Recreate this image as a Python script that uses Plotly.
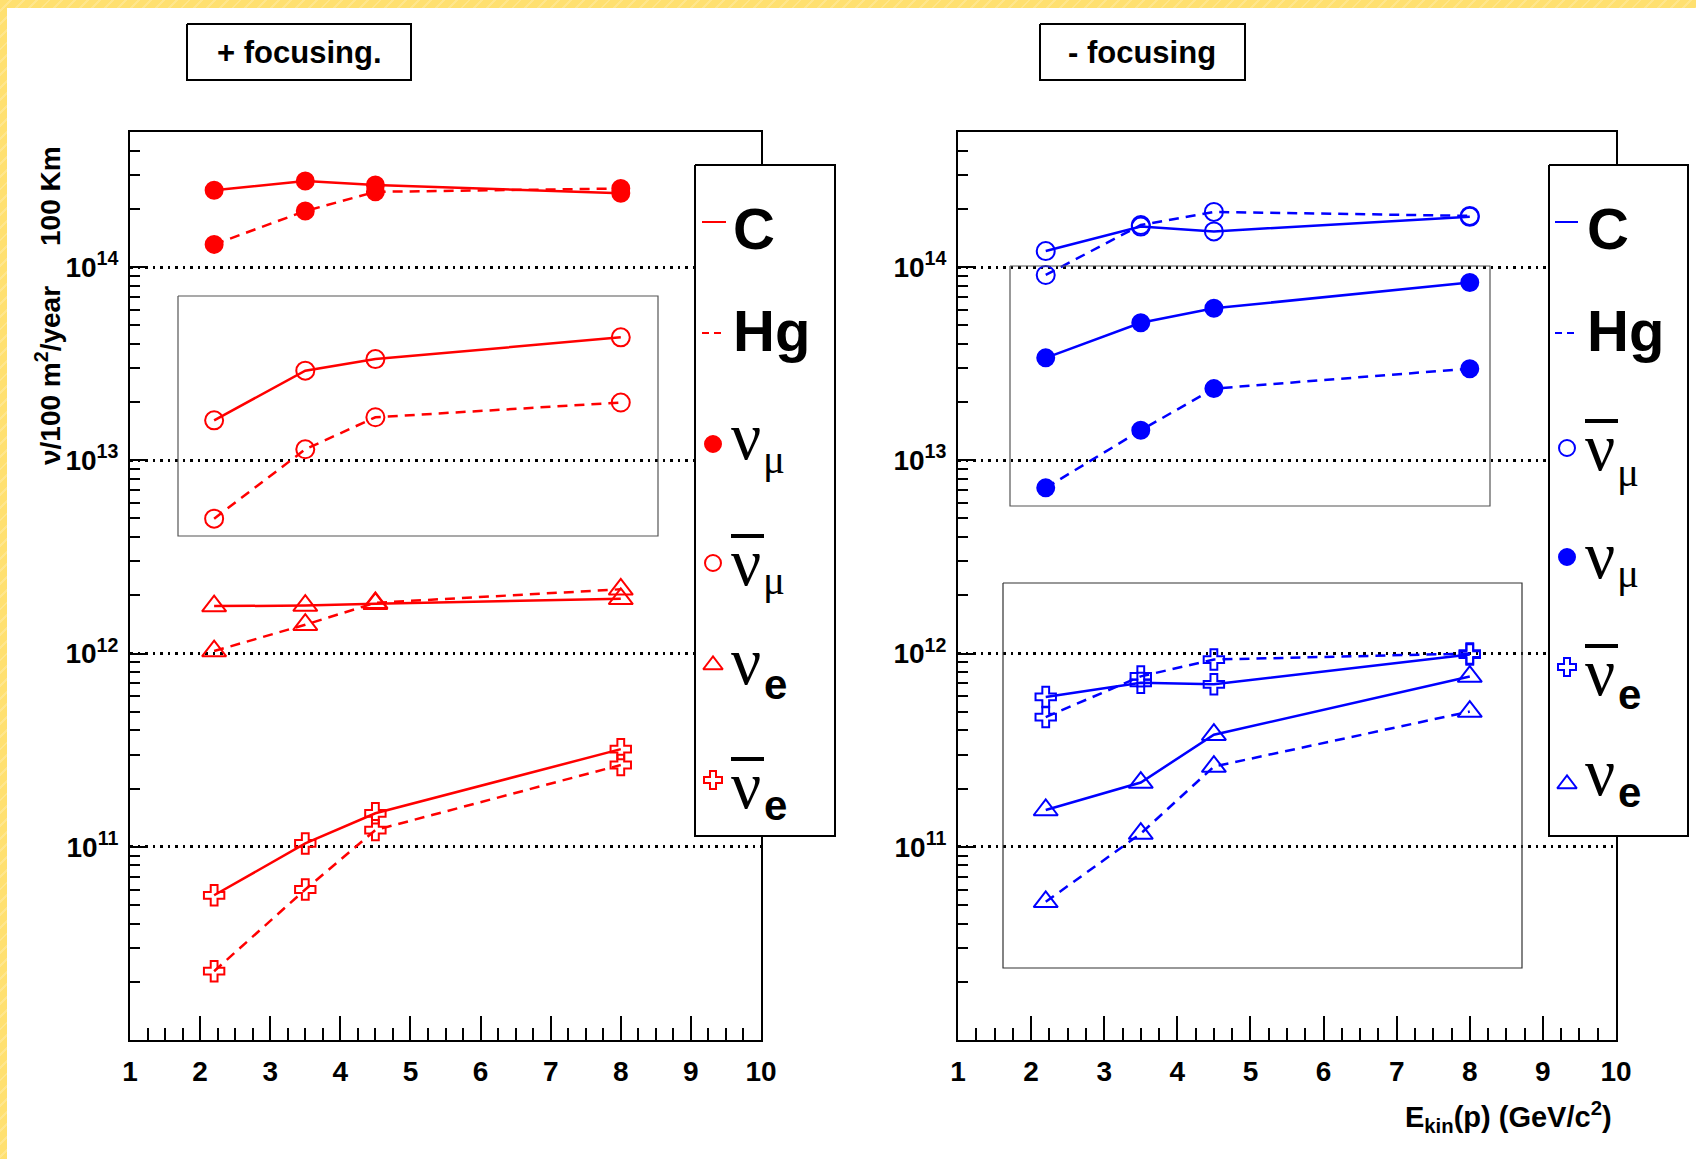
import math
import plotly.graph_objects as go

W, H = 1696, 1159          # browser window
OX, OY = 7, 8              # page offset of the figure (yellow border area)
Wf, Hf = W - OX + 24, H - OY + 24    # figure size (slightly oversized, clipped by the window)

# ---------------- data ----------------
E_kin = [2.2, 3.5, 4.5, 8.0]

# "+ focusing." panel (red)
pos_numu_C = [2.50e14, 2.79e14, 2.66e14, 2.41e14]
pos_numu_Hg = [1.31e14, 1.95e14, 2.45e14, 2.55e14]
pos_anumu_C = [1.61e13, 2.91e13, 3.34e13, 4.33e13]
pos_anumu_Hg = [4.99e12, 1.14e13, 1.67e13, 1.99e13]
pos_nue_C = [1.76e12, 1.77e12, 1.81e12, 1.92e12]
pos_nue_Hg = [1.03e12, 1.41e12, 1.83e12, 2.15e12]
pos_anue_C = [5.61e10, 1.04e11, 1.49e11, 3.20e11]
pos_anue_Hg = [2.27e10, 6.01e10, 1.22e11, 2.65e11]

# "- focusing" panel (blue)
neg_anumu_C = [1.21e14, 1.62e14, 1.53e14, 1.82e14]
neg_anumu_Hg = [9.10e13, 1.65e14, 1.93e14, 1.84e14]
neg_numu_C = [3.39e13, 5.15e13, 6.12e13, 8.32e13]
neg_numu_Hg = [7.20e12, 1.43e13, 2.35e13, 2.98e13]
neg_anue_C = [5.96e11, 7.05e11, 6.93e11, 9.88e11]
neg_anue_Hg = [4.69e11, 7.62e11, 9.31e11, 1.00e12]
neg_nue_C = [1.55e11, 2.15e11, 3.80e11, 7.60e11]
neg_nue_Hg = [5.19e10, 1.17e11, 2.60e11, 5.01e11]

y_major = [1e11, 1e12, 1e13, 1e14]
y_major_text = ["10<sup>11</sup>", "10<sup>12</sup>", "10<sup>13</sup>", "10<sup>14</sup>"]
x_tick_vals = list(range(1, 11))

# ---------------- styles ----------------
RED = "#FF0000"
BLUE = "#0000FF"
SANS = "Liberation Sans, Arial, sans-serif"
SERIF = "Liberation Serif, Times New Roman, serif"
DASH = "10px,7px"

SYM = {
    "filled": dict(symbol="circle", size=17),
    "open": dict(symbol="circle-open", size=18),
    "tri": dict(symbol="triangle-up-open", size=21),
    "cross": dict(symbol="cross-open", size=17),
}


def px_x(p):
    return (p - OX) / Wf


def px_y(p):
    return 1 - (p - OY) / Hf


fig = go.Figure()


def data_trace(y, color, kind, dashed, xa, ya):
    m = dict(SYM[kind])
    m["color"] = color
    m["line"] = dict(color=color, width=2)
    fig.add_trace(go.Scatter(
        x=E_kin, y=y, mode="lines+markers", xaxis=xa, yaxis=ya,
        line=dict(color=color, width=2.5, dash=DASH if dashed else "solid"),
        marker=m, showlegend=False, hoverinfo="skip"))


left = [
    (pos_numu_C, "filled", False), (pos_numu_Hg, "filled", True),
    (pos_anumu_C, "open", False), (pos_anumu_Hg, "open", True),
    (pos_nue_C, "tri", False), (pos_nue_Hg, "tri", True),
    (pos_anue_C, "cross", False), (pos_anue_Hg, "cross", True),
]
right = [
    (neg_anumu_C, "open", False), (neg_anumu_Hg, "open", True),
    (neg_numu_C, "filled", False), (neg_numu_Hg, "filled", True),
    (neg_anue_C, "cross", False), (neg_anue_Hg, "cross", True),
    (neg_nue_C, "tri", False), (neg_nue_Hg, "tri", True),
]
for y, k, d in left:
    data_trace(y, RED, k, d, "x", "y")
for y, k, d in right:
    data_trace(y, BLUE, k, d, "x2", "y2")

# ---------------- overlay (pixel) layer: boxes & legends ----------------
def poly(x0, y0, x1, y1, fill=True, color="black", width=2):
    fig.add_trace(go.Scatter(
        x=[x0, x1, x1, x0, x0], y=[y0, y0, y1, y1, y0], mode="lines",
        fill="toself" if fill else None, fillcolor="white",
        line=dict(color=color, width=width), xaxis="x3", yaxis="y3",
        showlegend=False, hoverinfo="skip"))


def seg(x0, x1, y, color, width, dash="solid"):
    fig.add_trace(go.Scatter(
        x=[x0, x1], y=[y, y], mode="lines", line=dict(color=color, width=width, dash=dash),
        xaxis="x3", yaxis="y3", showlegend=False, hoverinfo="skip"))


LEG_SIZE = {"filled": 16, "open": 16, "tri": 17, "cross": 15}


def mark(x, y, color, kind):
    m = dict(SYM[kind])
    m["color"] = color
    m["line"] = dict(color=color, width=2)
    m["size"] = LEG_SIZE[kind]
    fig.add_trace(go.Scatter(
        x=[x], y=[y], mode="markers", marker=m, xaxis="x3", yaxis="y3",
        showlegend=False, hoverinfo="skip"))


# inner thin rectangles
poly(178, 296, 658, 536, fill=False, color="#555555", width=1.2)
poly(1010, 266, 1490, 506, fill=False, color="#555555", width=1.2)
poly(1003, 583, 1522, 968, fill=False, color="#333333", width=1.2)

# title boxes
poly(187, 24, 411, 80)
poly(1040, 24, 1245, 80)

# legend boxes
poly(695, 165, 835, 836)
poly(1549, 165, 1688, 836)

annotations = []


def txt(x, y, text, size, family=SANS, bold=True, xanchor="left", yanchor="middle", angle=0):
    annotations.append(dict(
        x=px_x(x), y=px_y(y), xref="paper", yref="paper", text=text, showarrow=False,
        xanchor=xanchor, yanchor=yanchor, textangle=angle,
        font=dict(family=family, size=size, color="black", weight="bold" if bold else "normal")))


def legend(px_line0, px_line1, mx, tx, color, items):
    seg(px_line0, px_line1, 222, color, 2)
    txt(tx + 1, 229, "C", 58)
    seg(px_line0, px_line1, 333, color, 2, dash="7px,5px")
    txt(tx + 1, 331, "Hg", 58)
    for (my, kind, bar, sub, nu_y, sub_y) in items:
        mark(mx, my, color, kind)
        txt(tx - 1, nu_y - 1, "ν", 67, family=SERIF, bold=False)
        if bar:
            seg(tx + 1, tx + 34, nu_y - 27, "black", 4)
        if sub == "μ":
            txt(tx + 31, sub_y, "μ", 41, family=SERIF, bold=False)
        else:
            txt(tx + 32, sub_y, "e", 42)


legend(702, 726, 713, 730, RED, [
    (444, "filled", False, "μ", 437, 459),
    (563, "open", True, "μ", 563, 580),
    (665, "tri", False, "e", 662, 684),
    (780, "cross", True, "e", 786, 805),
])
legend(1555, 1578, 1567, 1584, BLUE, [
    (448, "open", True, "μ", 448, 472),
    (557, "filled", False, "μ", 556, 573),
    (667, "cross", True, "e", 673, 694),
    (784, "tri", False, "e", 773, 792),
])

# titles
txt(299, 52, "+ focusing.", 31, xanchor="center")
txt(1142, 52, "- focusing", 31, xanchor="center")

# axis titles
txt(50, 196, "100 Km", 28, xanchor="center", angle=-90)
txt(48, 376, "ν/100 m<sup>2</sup>/year", 28, xanchor="center", angle=-90)
txt(1614, 1117, "E<sub>kin</sub>(p) (GeV/c<sup>2</sup>)", 29, xanchor="right")

# ---------------- axes ----------------
minor_vals = [k * 10 ** n for n in range(10, 15) for k in range(2, 10) if k * 10 ** n < 5.01e14]
tickfont = dict(family=SANS, size=28, color="black", weight="bold")

yax = dict(
    type="log", range=[10, math.log10(5e14)], domain=[px_y(1040), px_y(132)],
    tickmode="array", tickvals=y_major, ticktext=y_major_text, tickfont=tickfont,
    ticks="inside", ticklen=17, tickwidth=2, tickcolor="black",
    minor=dict(tickmode="array", tickvals=minor_vals, ticks="inside", ticklen=10,
               tickwidth=2, tickcolor="black", showgrid=False),
    showline=True, linecolor="black", linewidth=2, mirror=True,
    showgrid=True, gridcolor="black", gridwidth=2.5, griddash="2.5px,5px",
    zeroline=False, ticklabelstandoff=4, automargin=False,
)
xax = dict(
    range=[1, 10], tickmode="array", tickvals=x_tick_vals, tickfont=tickfont,
    ticks="inside", ticklen=24, tickwidth=2, tickcolor="black",
    minor=dict(dtick=0.25, tick0=1, ticks="inside", ticklen=12, tickwidth=2,
               tickcolor="black", showgrid=False),
    showline=True, linecolor="black", linewidth=2, mirror=True,
    showgrid=False, zeroline=False, ticklabelstandoff=5, automargin=False,
)

fig.update_layout(
    width=Wf, height=Hf, autosize=False,
    margin=dict(l=0, r=0, t=0, b=0, pad=0),
    paper_bgcolor="white", plot_bgcolor="rgba(0,0,0,0)",
    showlegend=False,
    xaxis=dict(xax, domain=[px_x(130), px_x(761)], anchor="y"),
    yaxis=dict(yax, anchor="x"),
    xaxis2=dict(xax, domain=[px_x(958), px_x(1616)], anchor="y2"),
    yaxis2=dict(yax, anchor="x2"),
    xaxis3=dict(domain=[0, 1], range=[OX, OX + Wf], visible=False, anchor="y3", fixedrange=True),
    yaxis3=dict(domain=[0, 1], range=[OY + Hf, OY], visible=False, anchor="x3", fixedrange=True),
    annotations=annotations,
)

post = (
    "document.documentElement.style.overflow='hidden';"
    "document.body.style.margin='%dpx 0 0 %dpx';"
    "document.body.style.padding='0';"
    "document.body.style.overflow='hidden';"
    "document.body.style.background='repeating-linear-gradient(135deg,#FFE070 0px,#FFE070 7px,#FFE68C 7px,#FFE68C 9px)';"
    % (OY, OX)
)
fig.write_html("out.html", default_width="%dpx" % Wf, default_height="%dpx" % Hf, post_script=post)
